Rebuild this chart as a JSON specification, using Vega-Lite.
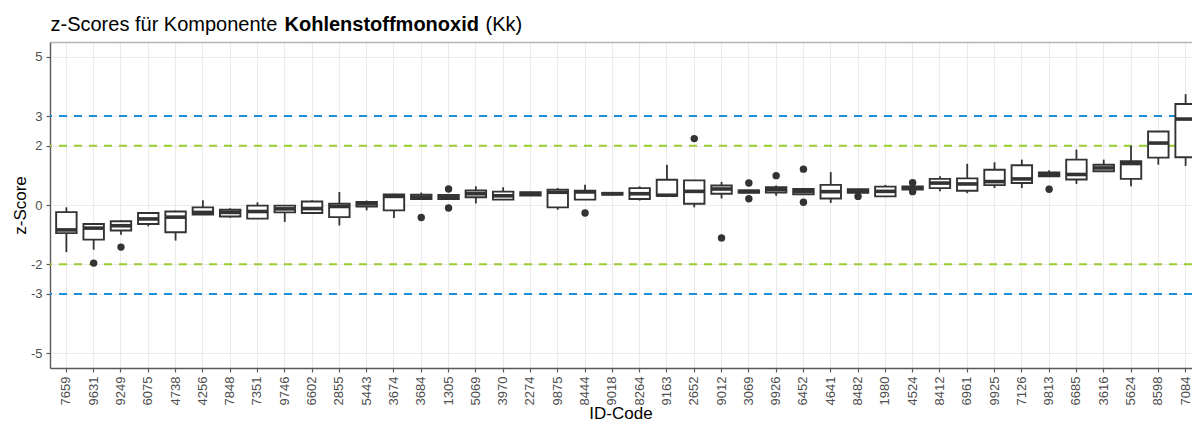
{
  "$schema": "https://vega.github.io/schema/vega-lite/v6.json",
  "width": 1142,
  "height": 326,
  "autosize": {"type": "none"},
  "padding": {"left": 50, "top": 42, "right": 0, "bottom": 57},
  "background": "white",
  "config": {
    "font": "Liberation Sans",
    "view": {"stroke": null},
    "axis": {"labelFont": "Liberation Sans", "titleFont": "Liberation Sans"}
  },
  "title": {
    "text": "ID-Code",
    "orient": "bottom",
    "anchor": "middle",
    "frame": "group",
    "fontSize": 17,
    "fontWeight": "normal",
    "color": "#000000",
    "offset": 1
  },
  "datasets": {
    "boxes": [
      {"id": "7659", "lo": -1.59, "q1": -0.95, "med": -0.84, "q3": -0.24, "hi": -0.08},
      {"id": "9631", "lo": -1.51, "q1": -1.17, "med": -0.78, "q3": -0.64, "hi": -0.62},
      {"id": "9249", "lo": -1.0, "q1": -0.86, "med": -0.7, "q3": -0.55, "hi": -0.52},
      {"id": "6075", "lo": -0.72, "q1": -0.64, "med": -0.47, "q3": -0.27, "hi": -0.25},
      {"id": "4738", "lo": -1.2, "q1": -0.92, "med": -0.41, "q3": -0.22, "hi": -0.19},
      {"id": "4256", "lo": -0.32, "q1": -0.32, "med": -0.25, "q3": -0.08, "hi": 0.16},
      {"id": "7848", "lo": -0.43, "q1": -0.39, "med": -0.25, "q3": -0.16, "hi": -0.11},
      {"id": "7351", "lo": -0.46, "q1": -0.46, "med": -0.22, "q3": -0.02, "hi": 0.09},
      {"id": "9746", "lo": -0.57, "q1": -0.25, "med": -0.13, "q3": -0.02, "hi": 0.0},
      {"id": "6602", "lo": -0.27, "q1": -0.27, "med": -0.12, "q3": 0.12, "hi": 0.16},
      {"id": "2855", "lo": -0.69, "q1": -0.41, "med": -0.05, "q3": 0.04, "hi": 0.44},
      {"id": "5443", "lo": -0.18, "q1": -0.05, "med": 0.04, "q3": 0.1, "hi": 0.15},
      {"id": "3674", "lo": -0.44, "q1": -0.18, "med": 0.29, "q3": 0.36, "hi": 0.38},
      {"id": "3684", "lo": 0.2, "q1": 0.2, "med": 0.27, "q3": 0.35, "hi": 0.42},
      {"id": "1305", "lo": 0.18, "q1": 0.2, "med": 0.27, "q3": 0.34, "hi": 0.35},
      {"id": "5069", "lo": 0.05, "q1": 0.26, "med": 0.38, "q3": 0.49, "hi": 0.63},
      {"id": "3970", "lo": 0.18, "q1": 0.18, "med": 0.31, "q3": 0.45, "hi": 0.6},
      {"id": "2274", "lo": 0.31, "q1": 0.32, "med": 0.38, "q3": 0.43, "hi": 0.44},
      {"id": "9875", "lo": -0.16, "q1": -0.08, "med": 0.43, "q3": 0.52, "hi": 0.57},
      {"id": "8444", "lo": 0.18, "q1": 0.18, "med": 0.44, "q3": 0.48, "hi": 0.68},
      {"id": "9018", "lo": 0.35, "q1": 0.35, "med": 0.38, "q3": 0.41, "hi": 0.41},
      {"id": "8264", "lo": 0.15, "q1": 0.2, "med": 0.38, "q3": 0.57, "hi": 0.63},
      {"id": "9163", "lo": 0.31, "q1": 0.31, "med": 0.33, "q3": 0.85, "hi": 1.36},
      {"id": "2652", "lo": -0.08, "q1": 0.04, "med": 0.46, "q3": 0.83, "hi": 0.83},
      {"id": "9012", "lo": 0.22, "q1": 0.38, "med": 0.54, "q3": 0.66, "hi": 0.78},
      {"id": "3069", "lo": 0.4, "q1": 0.41, "med": 0.46, "q3": 0.49, "hi": 0.5},
      {"id": "9926", "lo": 0.31, "q1": 0.42, "med": 0.52, "q3": 0.6, "hi": 0.66},
      {"id": "6452", "lo": 0.34, "q1": 0.36, "med": 0.45, "q3": 0.54, "hi": 0.55},
      {"id": "4641", "lo": 0.07, "q1": 0.22, "med": 0.45, "q3": 0.68, "hi": 1.11},
      {"id": "8482", "lo": 0.4, "q1": 0.41, "med": 0.47, "q3": 0.53, "hi": 0.55},
      {"id": "1980", "lo": 0.29, "q1": 0.29, "med": 0.46, "q3": 0.62, "hi": 0.68},
      {"id": "4524", "lo": 0.51, "q1": 0.52, "med": 0.58, "q3": 0.63, "hi": 0.64},
      {"id": "8412", "lo": 0.46, "q1": 0.57, "med": 0.74, "q3": 0.88, "hi": 0.97},
      {"id": "6961", "lo": 0.4, "q1": 0.48, "med": 0.71, "q3": 0.9, "hi": 1.39},
      {"id": "9925", "lo": 0.57, "q1": 0.67, "med": 0.79, "q3": 1.19, "hi": 1.44},
      {"id": "7126", "lo": 0.57, "q1": 0.74, "med": 0.88, "q3": 1.34, "hi": 1.53},
      {"id": "9813", "lo": 0.97, "q1": 0.97, "med": 1.03, "q3": 1.1, "hi": 1.17},
      {"id": "6685", "lo": 0.71, "q1": 0.86, "med": 1.03, "q3": 1.53, "hi": 1.87},
      {"id": "3616", "lo": 1.14, "q1": 1.14, "med": 1.25, "q3": 1.36, "hi": 1.53},
      {"id": "5624", "lo": 0.63, "q1": 0.88, "med": 1.4, "q3": 1.48, "hi": 2.0},
      {"id": "8598", "lo": 1.36, "q1": 1.6, "med": 2.09, "q3": 2.48, "hi": 2.48},
      {"id": "7084", "lo": 1.32, "q1": 1.61, "med": 2.9, "q3": 3.41, "hi": 3.74}
    ],
    "outliers": [
      {"id": "9631", "z": -1.96},
      {"id": "9249", "z": -1.42},
      {"id": "3684", "z": -0.42},
      {"id": "1305", "z": 0.54},
      {"id": "1305", "z": -0.1},
      {"id": "8444", "z": -0.27},
      {"id": "2652", "z": 2.24},
      {"id": "9012", "z": -1.11},
      {"id": "3069", "z": 0.74},
      {"id": "3069", "z": 0.21},
      {"id": "9926", "z": 0.99},
      {"id": "6452", "z": 1.21},
      {"id": "6452", "z": 0.09},
      {"id": "8482", "z": 0.29},
      {"id": "4524", "z": 0.75},
      {"id": "4524", "z": 0.45},
      {"id": "9813", "z": 0.53}
    ],
    "limits": [
      {"z": 3, "grenze": "3"},
      {"z": 2, "grenze": "2"},
      {"z": -2, "grenze": "2"},
      {"z": -3, "grenze": "3"}
    ]
  },
  "resolve": {"axis": {"x": "independent", "y": "independent"}},
  "layer": [
    {
      "data": {"name": "limits"},
      "mark": {"type": "rule", "strokeDash": [8, 7], "strokeWidth": 2},
      "encoding": {
        "y": {
          "field": "z", "type": "quantitative",
          "scale": {"domain": [-5.5, 5.5], "nice": false, "zero": false},
          "axis": {
            "orient": "left",
            "values": [-5, -3, -2, 0, 2, 3, 5],
            "labelExpr": "'' + datum.value",
            "title": "z-Score",
            "titleFontSize": 17,
            "titleFontWeight": "normal",
            "titleColor": "#000000",
            "titlePadding": 1,
            "labelFontSize": 13,
            "labelColor": "#4d4d4d",
            "labelPadding": 4,
            "tickSize": 4,
            "tickColor": "#5a5a5a",
            "tickWidth": 1.2,
            "domainColor": "#5a5a5a",
            "domainWidth": 1.4,
            "grid": true,
            "gridColor": "#ebebeb",
            "gridWidth": 1.1
          }
        },
        "color": {
          "field": "grenze", "type": "nominal",
          "scale": {"domain": ["2", "3"], "range": ["#9acd32", "#1b8fd6"]},
          "legend": null
        }
      }
    },
    {
      "data": {"name": "boxes"},
      "mark": {"type": "rule", "color": "#333333", "strokeWidth": 1.8},
      "encoding": {
        "x": {
          "field": "id", "type": "nominal", "sort": null,
          "scale": {"type": "band", "range": [0, 1152], "paddingInner": 0, "paddingOuter": 0.1},
          "axis": {
            "orient": "bottom",
            "labelAngle": -90,
            "labelFontSize": 13,
            "labelColor": "#4d4d4d",
            "labelPadding": 4,
            "tickSize": 4,
            "tickColor": "#5a5a5a",
            "tickWidth": 1.2,
            "domainColor": "#5a5a5a",
            "domainWidth": 1.4,
            "grid": true,
            "gridColor": "#ebebeb",
            "gridWidth": 1.1,
            "title": "(Kk)",
            "titleFontSize": 20,
            "titleFontWeight": "normal",
            "titleColor": "#000000",
            "titleAlign": "left",
            "titleBaseline": "alphabetic",
            "titleAngle": 0,
            "titleX": 435,
            "titleY": -338
          }
        },
        "y": {
          "field": "lo", "type": "quantitative",
          "scale": {"domain": [-5.5, 5.5], "nice": false, "zero": false},
          "axis": {
            "orient": "right",
            "labels": false,
            "ticks": false,
            "domain": false,
            "grid": false,
            "title": "Kohlenstoffmonoxid",
            "titleFontSize": 20,
            "titleFontWeight": "bold",
            "titleColor": "#000000",
            "titleAngle": 0,
            "titleAlign": "left",
            "titleBaseline": "alphabetic",
            "titleX": -908,
            "titleY": -12
          }
        },
        "y2": {"field": "hi"}
      }
    },
    {
      "data": {"name": "boxes"},
      "mark": {"type": "bar", "fill": "#ffffff", "stroke": "#333333", "strokeWidth": 1.9, "width": {"band": 0.75}},
      "encoding": {
        "x": {
          "field": "id", "type": "nominal", "sort": null,
          "scale": {"type": "band", "range": [0, 1152], "paddingInner": 0, "paddingOuter": 0.1},
          "axis": {
            "orient": "top",
            "labels": false,
            "ticks": false,
            "grid": false,
            "domainColor": "#b3b3b3",
            "domainWidth": 1.3,
            "title": "z-Scores für Komponente",
            "titleFontSize": 20,
            "titleFontWeight": "normal",
            "titleColor": "#000000",
            "titleAngle": 0,
            "titleAlign": "left",
            "titleBaseline": "alphabetic",
            "titleX": 0,
            "titleY": -12
          }
        },
        "y": {"field": "q1", "type": "quantitative", "scale": {"domain": [-5.5, 5.5], "nice": false, "zero": false}, "axis": null},
        "y2": {"field": "q3"}
      }
    },
    {
      "data": {"name": "boxes"},
      "mark": {"type": "tick", "color": "#333333", "thickness": 3.6, "size": 20.5, "opacity": 1},
      "encoding": {
        "x": {
          "field": "id", "type": "nominal", "sort": null,
          "scale": {"type": "band", "range": [0, 1152], "paddingInner": 0, "paddingOuter": 0.1},
          "axis": null
        },
        "y": {"field": "med", "type": "quantitative", "scale": {"domain": [-5.5, 5.5], "nice": false, "zero": false}, "axis": null}
      }
    },
    {
      "data": {"name": "outliers"},
      "mark": {"type": "point", "filled": true, "color": "#333333", "size": 55, "opacity": 1},
      "encoding": {
        "x": {
          "field": "id", "type": "nominal", "sort": null,
          "scale": {"type": "band", "range": [0, 1152], "paddingInner": 0, "paddingOuter": 0.1},
          "axis": null
        },
        "y": {"field": "z", "type": "quantitative", "scale": {"domain": [-5.5, 5.5], "nice": false, "zero": false}, "axis": null}
      }
    }
  ]
}
